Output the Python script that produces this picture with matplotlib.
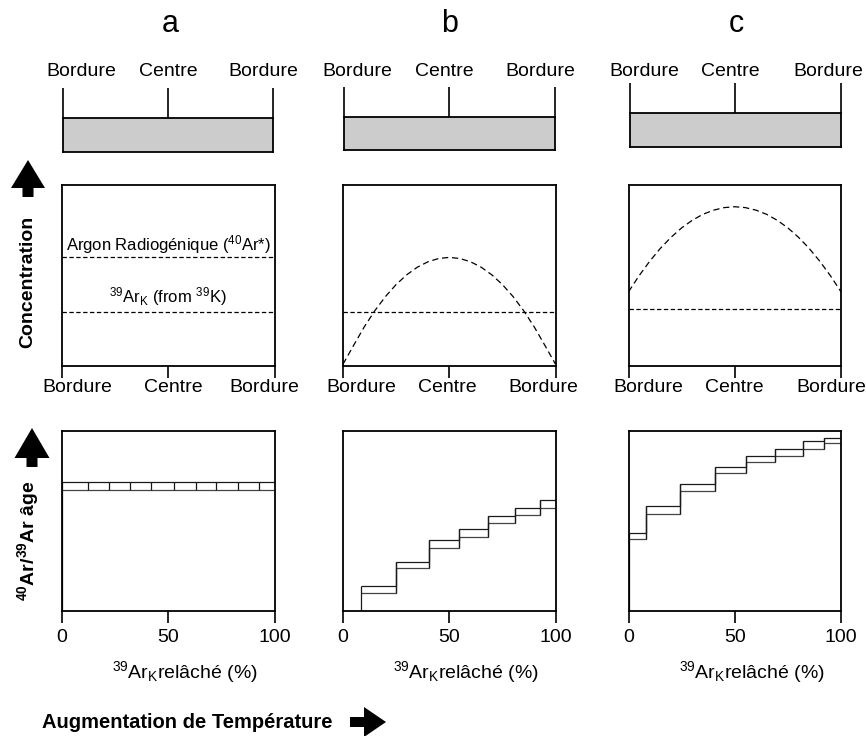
import matplotlib
matplotlib.use('Agg')
import matplotlib.pyplot as plt
import matplotlib.transforms as mtransforms
from matplotlib.patches import FancyArrow

plt.rcParams['font.family'] = ['Liberation Sans', 'DejaVu Sans']
plt.rcParams['mathtext.fontset'] = 'custom'
plt.rcParams['mathtext.rm'] = 'Liberation Sans'
plt.rcParams['mathtext.it'] = 'Liberation Sans:italic'
plt.rcParams['mathtext.bf'] = 'Liberation Sans:bold'

# ---- values ----
panel_names = ['a', 'b', 'c']
grain_labels = ['Bordure', 'Centre', 'Bordure']
grain_ticks = [0, 50, 100]
release_ticks = [0, 50, 100]
release_ticklabels = ['0', '50', '100']

# concentration profiles (arbitrary units, 0-100) across the grain
profile_x = [0, 5, 10, 15, 20, 25, 30, 35, 40, 45, 50,
             55, 60, 65, 70, 75, 80, 85, 90, 95, 100]
ar40_a = [60, 60, 60, 60, 60, 60, 60, 60, 60, 60, 60,
          60, 60, 60, 60, 60, 60, 60, 60, 60, 60]
ar40_b = [1, 11.4, 21.6, 30.6, 38.4, 45, 50.4, 54.6, 57.6, 59.4, 60,
          59.4, 57.6, 54.6, 50.4, 45, 38.4, 30.6, 21.6, 11.4, 1]
ar40_c = [41, 49.9, 57.9, 65, 71.1, 76.3, 80.5, 83.8, 86.1, 87.5, 88,
          87.5, 86.1, 83.8, 80.5, 76.3, 71.1, 65, 57.9, 49.9, 41]
ar39_level = [30, 30, 31.5]

# age spectra: step edges (% 39Ar released) and upper / lower age bounds
edges_a = [0, 12, 22, 32, 42, 52.5, 63, 72.5, 83, 92.5, 100]
hi_a = [71.5, 71.5, 71.5, 71.5, 71.5, 71.5, 71.5, 71.5, 71.5, 71.5]
lo_a = [67, 67, 67, 67, 67, 67, 67, 67, 67, 67]

edges_b = [8.4, 25.1, 40.5, 54.7, 68.0, 81.1, 92.8, 100]
hi_b = [13.9, 27.5, 39.2, 45.5, 52.9, 57.1, 61.4]
lo_b = [9.8, 23.8, 34.9, 40.9, 49.0, 53.1, 57.1]

edges_c = [0, 8.0, 24.2, 40.5, 55.5, 68.75, 82.0, 91.9, 100]
hi_c = [43.4, 58.1, 70.8, 80.0, 86.1, 90.2, 94.7, 96.3]
lo_c = [39.9, 54.0, 66.7, 76.7, 83.0, 86.1, 90.2, 93.2]

profiles = [ar40_a, ar40_b, ar40_c]
spectra = [(edges_a, hi_a, lo_a), (edges_b, hi_b, lo_b), (edges_c, hi_c, lo_c)]

# ---- layout (pixels of a 866x736 figure) ----
W, H = 866, 736
col_left = [62, 343, 628.5]
col_width = 212.5
grain_left = [62.7, 344, 630]
grain_width = 210.6
grain_bottom = [151.7, 150, 146.7]
grain_height = 33.5
top_label_pos = [[0.087, 0.50, 0.954], [0.064, 0.474, 0.934], [0.07, 0.477, 0.941]]
mid_label_pos = [[0.07, 0.524, 0.953], [0.085, 0.489, 0.942], [0.092, 0.499, 0.953]]
letter_x = [170, 450, 736]

SPINE = 1.3
fig = plt.figure(figsize=(W / 100, H / 100), dpi=100)


def fr(x, y):
    return x / W, 1 - y / H


for i, name in enumerate(panel_names):
    # grain sketch
    gx, gy = fr(grain_left[i], grain_bottom[i])
    gax = fig.add_axes([gx, gy, grain_width / W, grain_height / H])
    gax.set_facecolor('#cccccc')
    gax.set_xlim(0, 100)
    gax.set_ylim(0, 1)
    gax.set_xticks(grain_ticks)
    gax.set_yticks([])
    gax.tick_params(axis='x', top=True, bottom=False, labeltop=False,
                    labelbottom=False, direction='out', length=21.5, width=1.2)
    for s in gax.spines.values():
        s.set_linewidth(SPINE)
    blend = mtransforms.blended_transform_factory(gax.transAxes, fig.transFigure)
    for lab, px in zip(grain_labels, top_label_pos[i]):
        gax.text(px, 1 - 71 / H, lab, transform=blend, ha='center', va='center',
                 fontsize=14)
    fig.text(letter_x[i] / W, 1 - 24 / H, name, ha='center', va='center', fontsize=22)

    # concentration profile
    mx, my = fr(col_left[i], 366)
    max_ = fig.add_axes([mx, my, col_width / W, 181 / H])
    max_.set_xlim(0, 100)
    max_.set_ylim(0, 100)
    max_.plot(profile_x, profiles[i], color='black', lw=0.9,
              linestyle=(0, (5, 3)) if i > 0 else (0, (3.5, 2)))
    max_.axhline(ar39_level[i], color='black', lw=0.9, linestyle=(0, (3.5, 2)))
    max_.set_xticks(grain_ticks)
    max_.set_xticklabels([])
    max_.set_yticks([])
    max_.tick_params(axis='x', direction='out', length=8.6, width=1.2)
    for s in max_.spines.values():
        s.set_linewidth(SPINE)
    blend = mtransforms.blended_transform_factory(max_.transAxes, fig.transFigure)
    for lab, px in zip(grain_labels, mid_label_pos[i]):
        max_.text(px, 1 - 388 / H, lab, transform=blend, ha='center', va='center',
                  fontsize=14)
    if i == 0:
        max_.text(50, 66.9, r'Argon Radiogénique ($^{40}$Ar*)', ha='center',
                  va='center', fontsize=12)
        max_.text(50, 38.1, r'$^{39}$Ar$_{\mathrm{K}}$ (from $^{39}$K)', ha='center',
                  va='center', fontsize=12)

    # age spectrum
    bx, by = fr(col_left[i], 611)
    bax = fig.add_axes([bx, by, col_width / W, 180 / H])
    bax.set_xlim(0, 100)
    bax.set_ylim(0, 100)
    edges, hi, lo = spectra[i]
    bax.stairs(hi, edges, baseline=None, color='#1a1a1a', lw=0.9)
    bax.stairs(lo, edges, baseline=None, color='#444444', lw=0.9)
    bax.vlines(edges[0], 0, hi[0], color='#1a1a1a', lw=0.9)
    for k in range(1, len(hi)):
        bax.vlines(edges[k], min(lo[k - 1], lo[k]), max(hi[k - 1], hi[k]),
                   color='#1a1a1a', lw=0.9)
    bax.set_xticks(release_ticks)
    bax.set_xticklabels(release_ticklabels, fontsize=14)
    bax.set_yticks([])
    bax.tick_params(axis='x', direction='out', length=8.6, width=1.2, pad=4)
    for s in bax.spines.values():
        s.set_linewidth(SPINE)
    blend = mtransforms.blended_transform_factory(bax.transAxes, fig.transFigure)
    bax.text(0.58, 1 - 672 / H, r'$^{39}$Ar$_{\mathrm{K}}$relâché (%)', transform=blend,
             ha='center', va='center', fontsize=14)

# side labels
fig.text(28 / W, 1 - 281.5 / H, 'Concentration', rotation=90, ha='center',
         va='center', fontsize=14, fontweight='bold')
fig.text(28 / W, 1 - 541 / H, r'$\mathbf{^{40}}$Ar/$\mathbf{^{39}}$Ar âge', rotation=90,
         ha='center', va='center', fontsize=14, fontweight='bold')
fig.text(42 / W, 1 - 722 / H, 'Augmentation de Température', ha='left',
         va='center', fontsize=14.5, fontweight='bold')

# arrows drawn in pixel space
ov = fig.add_axes([0, 0, 1, 1])
ov.set_xlim(0, W)
ov.set_ylim(H, 0)
ov.axis('off')
ov.add_patch(FancyArrow(28, 197, 0, -37, width=11, head_width=34, head_length=28,
                        length_includes_head=True, color='black', lw=0))
ov.add_patch(FancyArrow(32, 467, 0, -39, width=11, head_width=35, head_length=30,
                        length_includes_head=True, color='black', lw=0))
ov.add_patch(FancyArrow(350, 722, 36, 0, width=10, head_width=30, head_length=22,
                        length_includes_head=True, color='black', lw=0))

fig.savefig('out.png', dpi=100)
